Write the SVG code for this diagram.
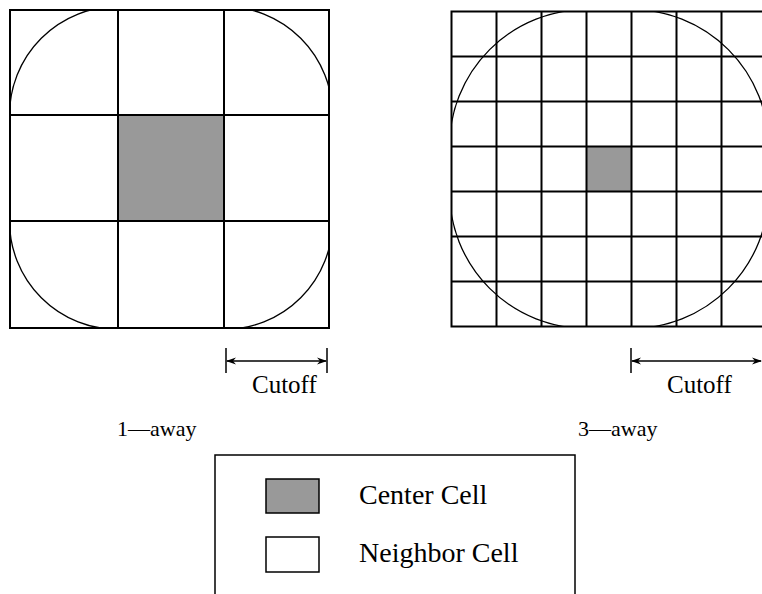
<svg xmlns="http://www.w3.org/2000/svg" width="762" height="594" viewBox="0 0 762 594">
  <style>
    .grid { fill: none; stroke: #000; stroke-width: 2; }
    .arc { fill: none; stroke: #000; stroke-width: 1.3; }
    .center { fill: #999999; stroke: none; }
    .lbl { font-family: "Liberation Serif", "Times New Roman", serif; fill: #000; }
    .tick { stroke: #000; stroke-width: 1.5; }
    .dim { stroke: #000; stroke-width: 1.5; fill: none; }
  </style>
  <defs>
    <marker id="ah" viewBox="0 0 10 8" refX="9" refY="4" markerWidth="10" markerHeight="8" markerUnits="userSpaceOnUse" orient="auto-start-reverse">
      <path d="M0,0.5 L10,4 L0,7.5 L3,4 z" fill="#000"/>
    </marker>
    <clipPath id="clipL"><rect x="10" y="10" width="319" height="318"/></clipPath>
    <clipPath id="clipR"><rect x="451.5" y="11.5" width="315" height="315"/></clipPath>
  </defs>
  <rect width="762" height="594" fill="#fff"/>

  <g id="grid-1-away">
    <rect class="center" x="118" y="115" width="106" height="106"/>
    <path class="arc" clip-path="url(#clipL)" d="M9.5,115 A108.5,108.5 0 0 1 118,6.5 L224,6.5 A108.5,108.5 0 0 1 332.5,115 L332.5,221 A108.5,108.5 0 0 1 224,329.5 L118,329.5 A108.5,108.5 0 0 1 9.5,221 Z"/>
    <rect class="grid" x="10" y="10" width="319" height="318"/>
    <path class="grid" d="M118,10 V328 M224,10 V328 M10,115 H329 M10,221 H329"/>
  </g>

  <g id="grid-3-away">
    <rect class="center" x="586.5" y="146.5" width="45" height="45"/>
    <path class="arc" clip-path="url(#clipR)" d="M449.5,146.5 A137,137 0 0 1 586.5,9.5 L631.5,9.5 A137,137 0 0 1 768.5,146.5 L768.5,191.5 A137,137 0 0 1 631.5,328.5 L586.5,328.5 A137,137 0 0 1 449.5,191.5 Z"/>
    <rect class="grid" x="451.5" y="11.5" width="315" height="315"/>
    <path class="grid" d="M496.5,11.5 V326.5 M541.5,11.5 V326.5 M586.5,11.5 V326.5 M631.5,11.5 V326.5 M676.5,11.5 V326.5 M721.5,11.5 V326.5 M451.5,56.5 H766.5 M451.5,101.5 H766.5 M451.5,146.5 H766.5 M451.5,191.5 H766.5 M451.5,236.5 H766.5 M451.5,281.5 H766.5"/>
  </g>

  <g id="connectors">
    <line class="tick" x1="226" y1="348" x2="226" y2="373"/>
    <line class="tick" x1="327" y1="348" x2="327" y2="373"/>
    <line class="dim" x1="227" y1="361" x2="326" y2="361" marker-start="url(#ah)" marker-end="url(#ah)"/>
    <line class="tick" x1="631" y1="348" x2="631" y2="373"/>
    <line class="dim" x1="632" y1="361" x2="761" y2="361" marker-start="url(#ah)" marker-end="url(#ah)"/>
  </g>

  <g id="label-cutoff-1">
    <text class="lbl" x="252" y="393" font-size="25">Cutoff</text>
  </g>
  <g id="label-cutoff-3">
    <text class="lbl" x="667" y="393" font-size="25">Cutoff</text>
  </g>
  <g id="label-1-away">
    <text class="lbl" x="117" y="436" font-size="22">1—away</text>
  </g>
  <g id="label-3-away">
    <text class="lbl" x="578" y="436" font-size="22">3—away</text>
  </g>

  <g id="legend">
    <rect x="215" y="455" width="360" height="150" fill="none" stroke="#000" stroke-width="1.5"/>
    <g id="legend-center">
      <rect x="266" y="479" width="53" height="34" fill="#999999" stroke="#000" stroke-width="1.5"/>
      <text class="lbl" x="359" y="504" font-size="28">Center Cell</text>
    </g>
    <g id="legend-neighbor">
      <rect x="266" y="537" width="53" height="35" fill="#fff" stroke="#000" stroke-width="1.5"/>
      <text class="lbl" x="359" y="562" font-size="28">Neighbor Cell</text>
    </g>
  </g>
</svg>
